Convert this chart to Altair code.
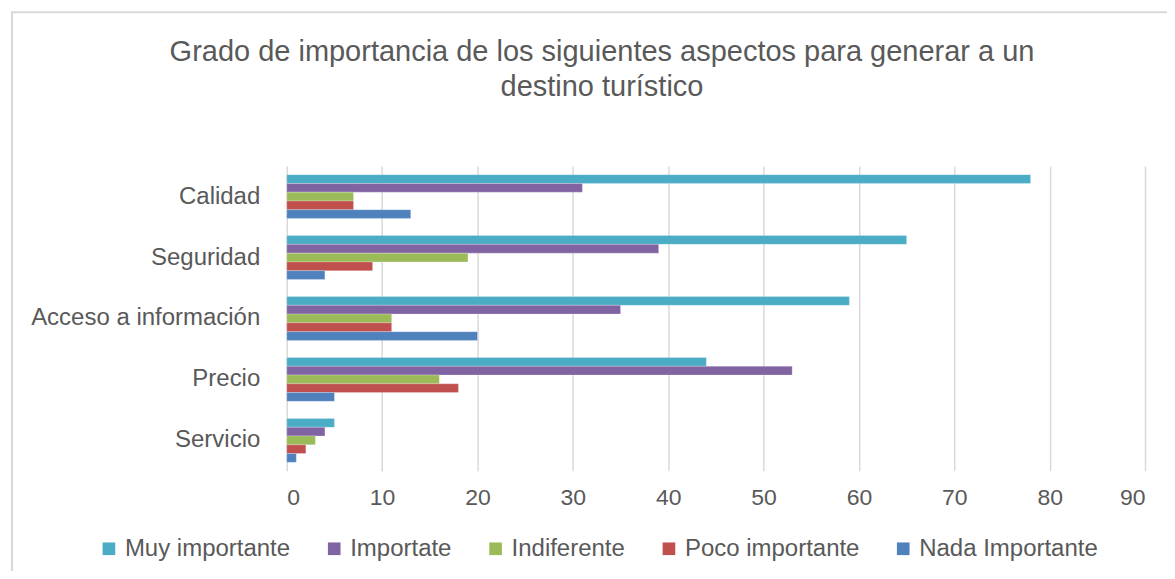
import altair as alt
import pandas as pd

categories = ["Calidad", "Seguridad", "Acceso a información", "Precio", "Servicio"]
series = ["Muy importante", "Importate", "Indiferente", "Poco importante", "Nada Importante"]
colors = ["#4BACC6", "#8064A2", "#9BBB59", "#C0504D", "#4F81BD"]

muy = [78, 65, 59, 44, 5]
importate = [31, 39, 35, 53, 4]
indiferente = [7, 19, 11, 16, 3]
poco = [7, 9, 11, 18, 2]
nada = [13, 4, 20, 5, 1]

x_ticks = [0, 10, 20, 30, 40, 50, 60, 70, 80, 90]

rows = []
for s, vals in zip(series, [muy, importate, indiferente, poco, nada]):
    for c, v in zip(categories, vals):
        rows.append({"categoria": c, "serie": s, "valor": v})
df = pd.DataFrame(rows)

FONT = "Liberation Sans"
TXT = "#595959"

bars = alt.Chart(df).mark_bar(stroke="white", strokeWidth=0.4, strokeOpacity=0.6).encode(
    y=alt.Y("categoria:N", sort=categories, title=None,
            scale=alt.Scale(paddingInner=0.28, paddingOuter=0.14),
            axis=alt.Axis(domain=False, ticks=False, labelFontSize=24, labelColor=TXT,
                          labelFont=FONT, labelPadding=27, labelLimit=400)),
    yOffset=alt.YOffset("serie:N", sort=series, scale=alt.Scale(paddingInner=0, paddingOuter=0)),
    x=alt.X("valor:Q", title=None,
            scale=alt.Scale(domain=[0, 90], nice=False),
            axis=alt.Axis(values=x_ticks, grid=True, gridColor="#D9D9D9", gridWidth=1.5,
                          domain=False, ticks=False, labelFontSize=23, labelColor=TXT,
                          labelFont=FONT, labelPadding=16)),
    color=alt.Color("serie:N", sort=series,
                    scale=alt.Scale(domain=series, range=colors),
                    legend=alt.Legend(title=None, orient="none", direction="horizontal",
                                      legendX=-190, legendY=371,
                                      symbolType="square", symbolSize=160,
                                      symbolStrokeWidth=0, labelFontSize=24,
                                      labelColor=TXT, labelFont=FONT, labelOffset=4,
                                      columnPadding=31.5, labelLimit=400)),
)

frame = alt.Chart(alt.Data(values=[{"a": 1}])).mark_rect(
    fill=None, stroke="#D9D9D9", strokeWidth=2
).encode(
    x=alt.value(-275), x2=alt.value(1000),
    y=alt.value(-154), y2=alt.value(600),
)

chart = alt.layer(frame, bars).properties(
    width=859, height=305,
    padding={"left": 279, "top": 158, "right": 22, "bottom": 100},
    autosize=alt.AutoSizeParams(type="none"),
    title=alt.TitleParams(
        text=["Grado de importancia de los siguientes aspectos para generar a un",
              "destino turístico"],
        fontSize=29, font=FONT, color=TXT, fontWeight="normal",
        anchor="middle", dx=-114, offset=0, dy=91, lineHeight=35,
    ),
).configure_view(stroke=None)

chart.save("out.html", embed_options={"renderer": "svg", "actions": False})
